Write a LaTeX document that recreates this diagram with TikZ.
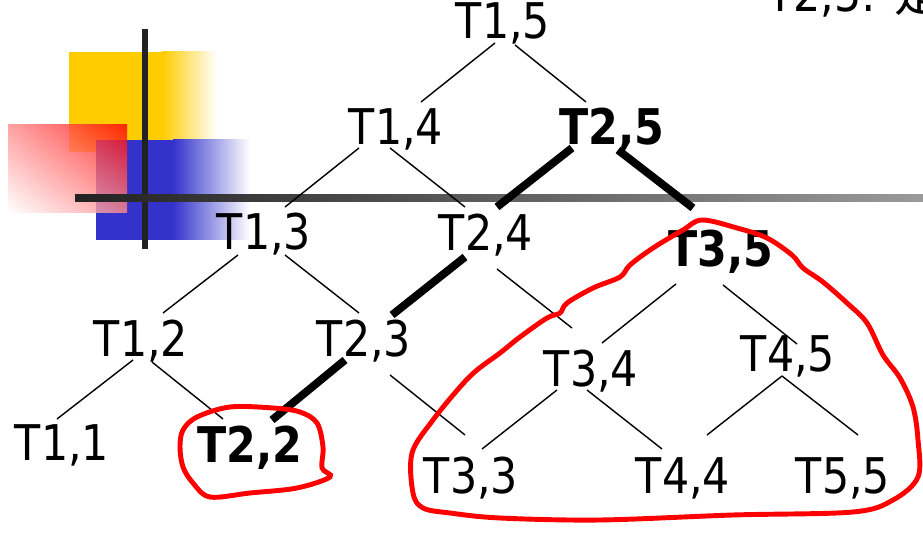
\documentclass[tikz,border=0pt]{standalone}
\usepackage{fontspec}
\setmainfont[FakeStretch=0.87]{DejaVu Sans}
\newfontfamily\cjkfont{Noto Sans CJK SC}
\usetikzlibrary{calc,shadings}
\definecolor{logoyellow}{HTML}{FFCC00}
\definecolor{logoblue}{HTML}{3333CC}
\definecolor{bardark}{HTML}{222222}
\definecolor{barlight}{HTML}{9A9A9A}

\begin{document}
\begin{tikzpicture}[x=0.02cm,y=-0.02cm,
    every node/.style={font=\fontsize{28}{34}\selectfont, inner sep=0pt, anchor=base},
    picked/.style={font=\fontsize{28}{34}\selectfont\bfseries},
    edge/.style={line width=0.8pt},
    chain/.style={line width=4.5pt},
    redring/.style={red, line width=2.8pt, smooth cycle, tension=0.55}]
    \useasboundingbox[fill=white] (0,0) rectangle (923,533);
    \fill[logoyellow] (69,52) rectangle (162,152);
    \shade[left color=logoyellow, right color=white] (162,52) rectangle (217,152);
    \fill[logoblue] (96,140) rectangle (173,240);
    \shade[left color=logoblue, right color=white] (173,140) rectangle (250,240);
    \shade[opacity=0.8, upper right=red, upper left=red!45!white, lower right=red!45!white, lower left=white] (8,125) rectangle (127,213);
    \fill[bardark] (142,29) rectangle (148,249);
    \shade[left color=bardark, right color=barlight] (75,195) rectangle (923,202);
    \node[anchor=base west] (note) at (767,12) {T2,5: {\cjkfont 是}};
    \node (t15) at (503,39) {T1,5};
    \node (t14) at (396,145) {T1,4};
    \node[picked] (t25) at (612,145) {T2,5};
    \node (t13) at (264,250) {T1,3};
    \node (t24) at (486,251) {T2,4};
    \node[picked] (t35) at (721,267) {T3,5};
    \node (t12) at (141,357) {T1,2};
    \node (t23) at (364,357) {T2,3};
    \node (t34) at (591,387) {T3,4};
    \node (t45) at (788,372) {T4,5};
    \node (t11) at (62,460) {T1,1};
    \node[picked] (t22) at (250,462) {T2,2};
    \node (t33) at (471,493) {T3,3};
    \node (t44) at (683,493) {T4,4};
    \node (t55) at (843,493) {T5,5};
    \draw[edge] ($(t15.base)+(-8,4)$) -- ($(t14.base)+(25,-43)$);
    \draw[edge] ($(t15.base)+(12,6)$) -- ($(t25.base)+(-26,-43)$);
    \draw[edge] ($(t14.base)+(-37,3)$) -- ($(t13.base)+(21,-43)$);
    \draw[edge] ($(t14.base)+(-6,3)$) -- ($(t24.base)+(-21,-44)$);
    \draw[chain] ($(t25.base)+(-40,3)$) -- ($(t24.base)+(11,-44)$);
    \draw[chain] ($(t25.base)+(6,5)$) -- ($(t35.base)+(-28,-59)$);
    \draw[edge] ($(t13.base)+(-26,5)$) -- ($(t12.base)+(22,-44)$);
    \draw[edge] ($(t13.base)+(21,5)$) -- ($(t23.base)+(-5,-44)$);
    \draw[chain] ($(t24.base)+(-21,6)$) -- ($(t23.base)+(28,-42)$);
    \draw[edge] ($(t24.base)+(11,18)$) -- ($(t34.base)+(-19,-59)$);
    \draw[edge] ($(t35.base)+(-45,17)$) -- ($(t34.base)+(11,-44)$);
    \draw[edge] ($(t35.base)+(2,18)$) -- ($(t45.base)+(9,-28)$);
    \draw[edge] ($(t12.base)+(-8,3)$) -- ($(t11.base)+(-5,-41)$);
    \draw[edge] ($(t12.base)+(11,5)$) -- ($(t22.base)+(-27,-43)$);
    \draw[chain] ($(t23.base)+(-19,3)$) -- ($(t22.base)+(22,-42)$);
    \draw[edge] ($(t23.base)+(26,18)$) -- ($(t33.base)+(-6,-58)$);
    \draw[edge] ($(t34.base)+(-34,3)$) -- ($(t33.base)+(11,-44)$);
    \draw[edge] ($(t34.base)+(-4,3)$) -- ($(t44.base)+(-21,-44)$);
    \draw[edge] ($(t45.base)+(-6,4)$) -- ($(t44.base)+(24,-58)$);
    \draw[edge] ($(t45.base)+(-6,4)$) -- ($(t55.base)+(15,-58)$);
    \draw[redring] plot coordinates {(180,447) (183,430) (197,417) (230,407) (273,408) (300,412) (317,423) (323,447) (322,468) (330,477) (297,488) (250,493) (210,497) (193,483) (183,467)};
    \draw[redring] plot coordinates {(702,220) (737,228) (767,238) (792,255) (803,268) (823,282) (847,303) (867,323) (883,355) (900,378) (913,407) (918,440) (918,477) (893,500) (853,512) (733,515) (600,520) (500,518) (450,513) (423,508) (413,493) (412,453) (433,420) (460,387) (477,370) (500,353) (520,337) (547,318) (560,313) (567,303) (593,288) (620,277) (630,265) (653,248) (683,230)};
\end{tikzpicture}
\end{document}
